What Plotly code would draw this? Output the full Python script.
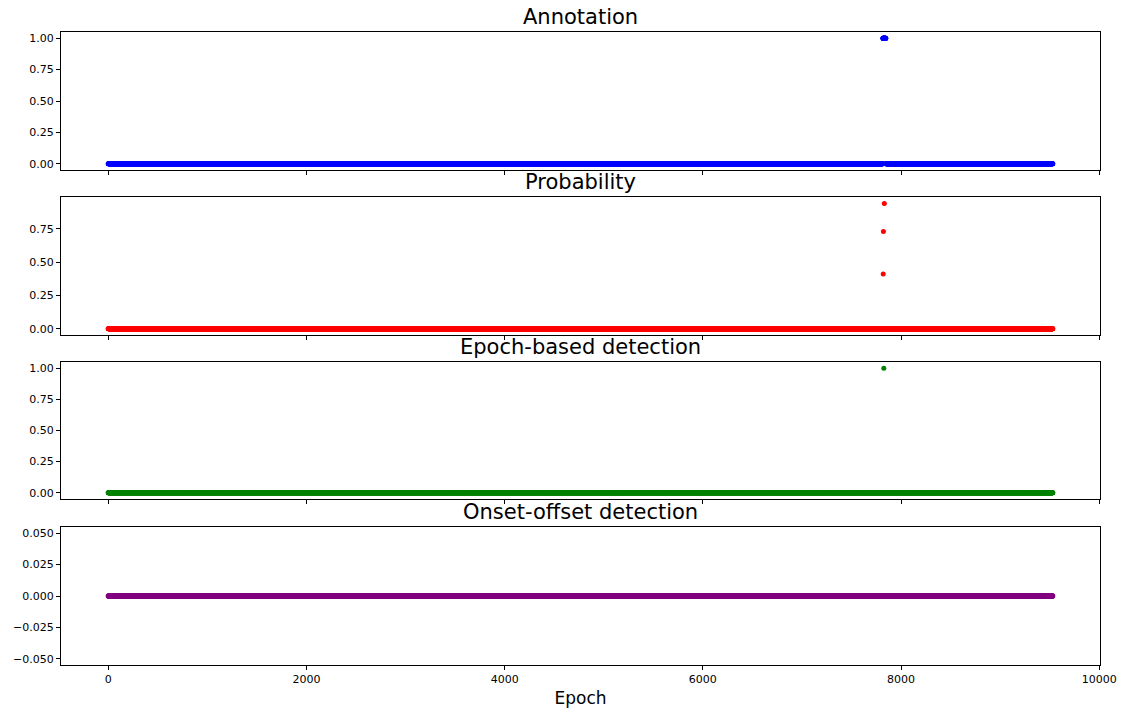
import numpy as np
import plotly.graph_objects as go

# ---- data ----
n_epochs = 9532                      # epochs 0 .. 9531
annotation_on_start = 7817           # annotation == 1 from this epoch
annotation_on_end = 7846             # ... up to this epoch (inclusive)
prob_epochs = [7820, 7822, 7831]     # epochs with non-zero probability
prob_values = [0.41, 0.73, 0.94]
detect_epochs = [7826]               # epoch-based detections
detect_values = [1.0]
onset_epochs = []                    # onset-offset detections (none)
onset_values = []

titles = ["Annotation", "Probability", "Epoch-based detection", "Onset-offset detection"]
colors = ["#0000ff", "#ff0000", "#008000", "#800080"]
x_ticks = [0, 2000, 4000, 6000, 8000, 10000]
x_tick_labels = ["0", "2000", "4000", "6000", "8000", "10000"]
y_ticks = [
    [0.0, 0.25, 0.5, 0.75, 1.0],
    [0.0, 0.25, 0.5, 0.75],
    [0.0, 0.25, 0.5, 0.75, 1.0],
    [-0.05, -0.025, 0.0, 0.025, 0.05],
]
y_formats = [".2f", ".2f", ".2f", ".3f"]
y_ranges = [[-0.05, 1.05], [-0.047, 0.988], [-0.05, 1.05], [-0.055, 0.055]]
x_range = [-476.5, 10007.5]

# ---- build series ----
epochs = np.arange(n_epochs)
annotation = np.zeros(n_epochs)
annotation[annotation_on_start:annotation_on_end + 1] = 1.0
probability = np.zeros(n_epochs)
probability[prob_epochs] = prob_values
detection = np.zeros(n_epochs)
detection[detect_epochs] = detect_values
onset = np.zeros(n_epochs)
if onset_epochs:
    onset[onset_epochs] = onset_values
series = [annotation, probability, detection, onset]

W, H = 1125, 711
x_dom = [61 / W, 1100 / W]
y_px = [(32, 170), (197, 335), (362, 499), (527, 665)]
y_doms = [[1 - b / H, 1 - t / H] for t, b in y_px]

fig = go.Figure()
font = "DejaVu Sans, Arial, sans-serif"
for i, (ys, c) in enumerate(zip(series, colors)):
    k = "" if i == 0 else str(i + 1)
    fig.add_trace(go.Scatter(
        x=epochs, y=ys, mode="markers",
        marker=dict(color=c, size=5, line=dict(width=0)),
        xaxis="x" + k, yaxis="y" + k, showlegend=False, hoverinfo="skip",
    ))
    axis_common = dict(showline=True, mirror=True, linecolor="black", linewidth=1,
                       ticks="outside", ticklen=4, tickcolor="black", tickwidth=1,
                       showgrid=False, zeroline=False, automargin=False,
                       tickfont=dict(family=font, size=11, color="black"))
    fig.layout["xaxis" + k] = dict(
        domain=x_dom, anchor="y" + k, range=x_range,
        tickmode="array", tickvals=x_ticks, ticktext=x_tick_labels,
        showticklabels=(i == 3),
        matches=None if i == 0 else "x",
        **axis_common,
    )
    fig.layout["yaxis" + k] = dict(
        domain=y_doms[i], anchor="x" + k, range=y_ranges[i],
        tickmode="array", tickvals=y_ticks[i], tickformat=y_formats[i],
        **axis_common,
    )
    fig.add_annotation(
        text=titles[i], x=(x_dom[0] + x_dom[1]) / 2, y=y_doms[i][1],
        xref="paper", yref="paper", xanchor="center", yanchor="bottom",
        yshift=1, showarrow=False,
        font=dict(family=font, size=21, color="black"),
    )

fig.layout.xaxis4.title = dict(text="Epoch", font=dict(family=font, size=17, color="black"), standoff=6)

fig.update_layout(
    width=W, height=H, margin=dict(l=0, r=0, t=0, b=0),
    paper_bgcolor="white", plot_bgcolor="white",
)
fig.write_html("out.html")
